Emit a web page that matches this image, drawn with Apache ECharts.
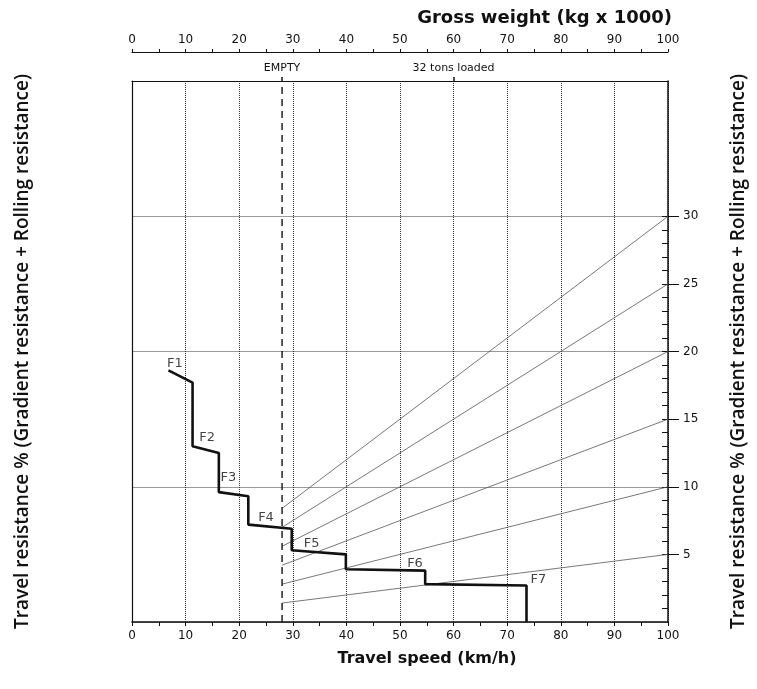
<!DOCTYPE html>
<html><head><meta charset="utf-8">
<script src="https://cdn.jsdelivr.net/npm/echarts@6/dist/echarts.min.js"></script>
<style>html,body{margin:0;padding:0;background:#fff}#c{width:757px;height:689px}</style>
</head><body><div id="c"></div>
<script>
// ---- data ----
const speedLabels = [0, 10, 20, 30, 40, 50, 60, 70, 80, 90, 100];
const weightLabels = [0, 10, 20, 30, 40, 50, 60, 70, 80, 90, 100];
const weightTicks = [0, 5, 10, 15, 20, 25, 30, 35, 40, 45, 50, 55, 60, 65, 70, 75, 80, 85, 90, 95, 100];
const resistLabels = [5, 10, 15, 20, 25, 30];
const resistMinorTicks = [1,2,3,4,5,6,7,8,9,10,11,12,13,14,15,16,17,18,19,20,21,22,23,24,25,26,27,28,29,30];
const markerValues = [28, 60];
const markerNames = ['EMPTY', '32 tons loaded'];
const emptyWeight = 28;
const fullWeight = 100;
const resistPct = [5, 10, 15, 20, 25, 30];
const resistAtEmpty = [1.4, 2.8, 4.2, 5.6, 7.0, 8.4];
const rimpullSpeed  = [6.8, 11.3, 11.3, 16.2, 16.2, 21.7, 21.7, 29.8, 29.8, 39.9, 39.9, 54.7, 54.7, 73.6, 73.6];
const rimpullResist = [18.6, 17.7, 13.0, 12.5, 9.6, 9.3, 7.2, 6.9, 5.3, 5.0, 3.9, 3.8, 2.8, 2.7, 0];
const gearNames = ['F1', 'F2', 'F3', 'F4', 'F5', 'F6', 'F7'];
const gearLabelSpeed  = [8.0, 14.0, 18.0, 25.0, 33.5, 52.8, 75.8];
const gearLabelResist = [19.1, 13.6, 10.7, 7.7, 5.8, 4.3, 3.1];
const yMin = 0, yMax = 40;

const FONT = 'DejaVu Sans';
const TITLE_FONT = 'DejaVu Sans';
const SIDE_FONT = 'Open Sans';
const SIDE_NAME = 'Travel resistance % (Gradient resistance + Rolling resistance)';

const chart = echarts.init(document.getElementById('c'), null, {renderer: 'canvas'});

const series = [];
resistPct.forEach((p, i) => {
  series.push({
    type: 'line', xAxisIndex: 0, yAxisIndex: 0, symbol: 'none', silent: true,
    lineStyle: {color: '#555', width: 0.8},
    data: [[emptyWeight, resistAtEmpty[i]], [fullWeight, p]]
  });
});
series.push({
  type: 'line', xAxisIndex: 0, yAxisIndex: 0, symbol: 'none', silent: true,
  lineStyle: {color: '#222', width: 1.5, type: [7, 5]},
  data: [[emptyWeight, yMin], [emptyWeight, yMax]]
});
series.push({
  type: 'line', xAxisIndex: 0, yAxisIndex: 0, symbol: 'none', silent: true,
  lineStyle: {color: '#111', width: 2.6},
  data: rimpullSpeed.map((s, i) => [s, rimpullResist[i]])
});
series.push({
  type: 'scatter', xAxisIndex: 0, yAxisIndex: 0, symbolSize: 0, silent: true,
  label: {show: true, position: 'inside', color: '#111', fontSize: 13, fontFamily: FONT,
    formatter: p => gearNames[p.dataIndex]},
  data: gearLabelSpeed.map((s, i) => [s, gearLabelResist[i]])
});

chart.setOption({
  animation: false,
  backgroundColor: '#fff',
  title: {
    text: 'Gross weight (kg x 1000)', right: 80, top: 4,
    textStyle: {fontFamily: TITLE_FONT, fontSize: 18, fontWeight: 'bold', color: '#111'}
  },
  grid: {left: 132, right: 89, top: 81, bottom: 67},
  xAxis: [
    {
      type: 'value', position: 'bottom', min: 0, max: 100, interval: 10,
      axisLine: {show: true, onZero: false, lineStyle: {color: '#111', width: 1.5}},
      axisTick: {show: true, length: 4, lineStyle: {color: '#111'}},
      minorTick: {show: true, splitNumber: 2, length: 4, lineStyle: {color: '#111'}},
      axisLabel: {customValues: speedLabels, margin: 8, fontFamily: FONT, fontSize: 12, color: '#111'},
      splitLine: {show: true, lineStyle: {color: '#333', type: 'dotted', width: 1}},
      name: 'Travel speed (km/h)', nameLocation: 'middle', nameGap: 29,
      nameTextStyle: {fontFamily: TITLE_FONT, fontSize: 16, fontWeight: 'bold', color: '#111', padding: [0, 0, 0, 54]}
    },
    {
      type: 'value', position: 'top', offset: 29, min: 0, max: 100, interval: 10,
      axisLine: {show: true, onZero: false, lineStyle: {color: '#111', width: 1}},
      axisTick: {show: true, customValues: weightTicks, length: 3, lineStyle: {color: '#111'}},
      axisLabel: {customValues: weightLabels, margin: 6, fontFamily: FONT, fontSize: 12, color: '#111'},
      splitLine: {show: false}
    },
    {
      type: 'value', position: 'top', offset: 0, min: 0, max: 100,
      axisLine: {show: true, onZero: false, lineStyle: {color: '#111', width: 1.2}},
      axisTick: {show: true, customValues: markerValues, length: 4, lineStyle: {color: '#111', width: 1.5}},
      axisLabel: {customValues: markerValues, margin: 7, fontFamily: FONT, fontSize: 11, color: '#111',
        formatter: v => markerNames[markerValues.indexOf(v)]},
      splitLine: {show: false}
    }
  ],
  yAxis: [
    {
      type: 'value', position: 'left', min: yMin, max: yMax, interval: 10,
      axisLine: {show: true, onZero: false, lineStyle: {color: '#111', width: 1.2}},
      axisTick: {show: false}, axisLabel: {show: false},
      splitLine: {show: true, lineStyle: {color: '#999', width: 1}},
      name: SIDE_NAME, nameLocation: 'middle', nameGap: 100, nameRotate: 90,
      nameTextStyle: {fontFamily: SIDE_FONT, fontSize: 19, fontWeight: 600, color: '#111'}
    },
    {
      type: 'value', position: 'right', min: yMin, max: yMax, interval: 5,
      axisLine: {show: true, onZero: false, lineStyle: {color: '#111', width: 1.5}},
      axisTick: {show: true, customValues: resistLabels, length: 11, lineStyle: {color: '#111'}},
      axisLabel: {customValues: resistLabels, margin: 15, fontFamily: FONT, fontSize: 12, color: '#111'},
      splitLine: {show: false},
      name: SIDE_NAME, nameLocation: 'middle', nameGap: 61, nameRotate: 90,
      nameTextStyle: {fontFamily: SIDE_FONT, fontSize: 19, fontWeight: 600, color: '#111'}
    },
    {
      type: 'value', position: 'right', min: yMin, max: yMax,
      axisLine: {show: false, onZero: false},
      axisTick: {show: true, inside: true, customValues: resistMinorTicks, length: 6, lineStyle: {color: '#111'}},
      axisLabel: {show: false},
      splitLine: {show: false}
    }
  ],
  series: series
});
</script>
</body></html>
